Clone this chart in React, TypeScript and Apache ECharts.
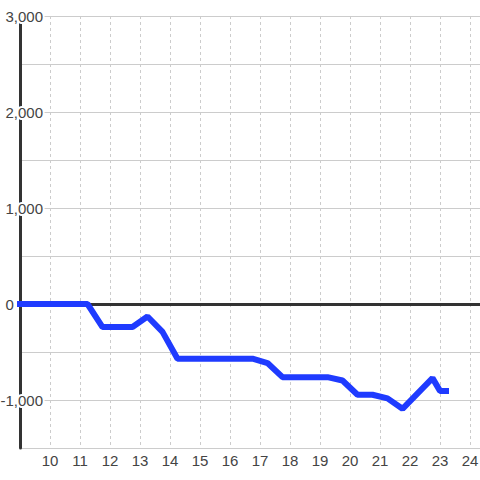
import React, { useEffect, useRef } from "react";
import * as echarts from "echarts";

const xValues = [8.75, 11.25, 11.75, 12.75, 13.25, 13.75, 14.25, 16.75, 17.25, 17.75, 19.25, 19.75, 20.25, 20.75, 21.25, 21.75, 22.75, 23.0, 23.3];
const yValues = [0, 0, -240, -240, -130, -290, -570, -570, -615, -762, -762, -797, -945, -945, -983, -1092, -772, -905, -905];
const yTickLabels: Record<number, string> = { 3000: "{n|3,000}", 2000: "{n|2,000}", 1000: "{n|1,000}", 0: "{n|0}{h|,000}", [-1000]: "{n|-1,000}" };

export default function App() {
  const ref = useRef<HTMLDivElement>(null);
  useEffect(() => {
    if (!ref.current) return;
    const chart = echarts.init(ref.current, null, { renderer: "svg" });
    const font = "'Liberation Sans', Arial, sans-serif";
    chart.setOption({
      animation: false,
      backgroundColor: "#ffffff",
      grid: { left: 20, right: 0, top: 16, bottom: 32, containLabel: false, outerBoundsMode: "none" },
      xAxis: {
        type: "value",
        min: 9,
        max: 24.3333,
        interval: 1,
        axisLine: { show: false },
        axisTick: { show: false },
        axisLabel: {
          margin: 5,
          color: "#444",
          fontSize: 15,
          fontFamily: font,
          showMinLabel: false,
          showMaxLabel: false,
          formatter: (v: number) => (Number.isInteger(v) ? String(v) : ""),
        },
        splitLine: { show: true, lineStyle: { color: "#cccccc", width: 1, type: [3, 3] } },
      },
      yAxis: {
        type: "value",
        min: -1500,
        max: 3000,
        interval: 500,
        axisLine: { show: true, lineStyle: { color: "#333", width: 3 } },
        axisTick: { show: false },
        axisLabel: {
          margin: -23,
          align: "right",
          color: "#444",
          fontSize: 15,
          fontFamily: font,
          formatter: (v: number) => yTickLabels[v] ?? "",
          rich: {
            n: { color: "#444", fontSize: 15, fontFamily: font, textBorderColor: "#ffffff", textBorderWidth: 4 },
            h: { color: "transparent", fontSize: 15, fontFamily: font, textBorderColor: "transparent", textBorderWidth: 0 },
          },
        },
        splitLine: { show: true, lineStyle: { color: "#cccccc", width: 1 } },
      },
      series: [
        {
          type: "line",
          z: 1,
          data: [],
          markLine: {
            silent: true,
            symbol: "none",
            z: 1,
            label: { show: false },
            lineStyle: { color: "#333", width: 3, type: "solid" },
            data: [{ yAxis: 0 }],
          },
        },
        {
          type: "line",
          z: 3,
          showSymbol: false,
          data: xValues.map((x, i) => [x, yValues[i]]),
          lineStyle: { color: "#1f3bff", width: 6 },
          itemStyle: { color: "#1f3bff" },
        },
      ],
    });
    return () => chart.dispose();
  }, []);
  return <div ref={ref} style={{ position: "fixed", left: 0, top: 0, width: 480, height: 480 }} />;
}
